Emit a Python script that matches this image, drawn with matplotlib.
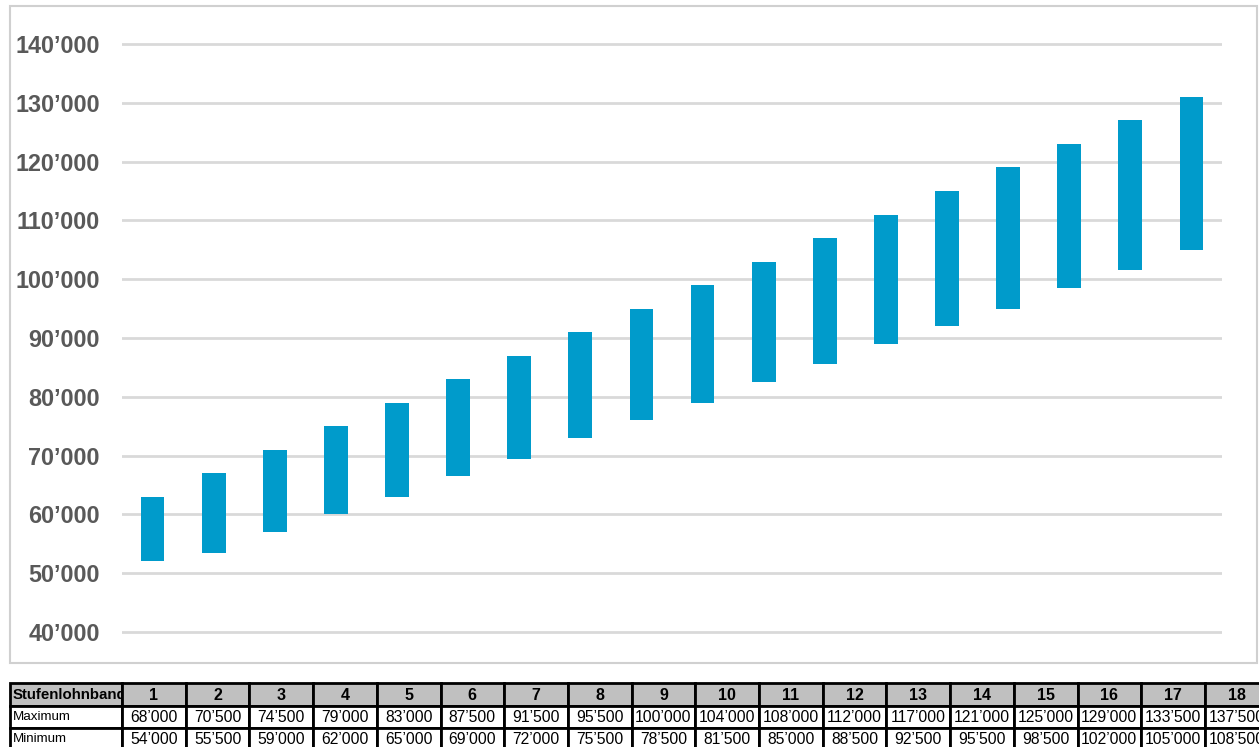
import matplotlib
matplotlib.use("Agg")
import matplotlib.pyplot as plt
from matplotlib.patches import Rectangle

plt.rcParams['font.family'] = ['Liberation Sans', 'DejaVu Sans']

# Data
bands = list(range(1, 19))
bar_low = [52000, 53500, 57000, 60000, 63000, 66500, 69500, 73000, 76000,
           79000, 82500, 85500, 89000, 92000, 95000, 98500, 101500, 105000]
bar_high = [63000, 67000, 71000, 75000, 79000, 83000, 87000, 91000, 95000,
            99000, 103000, 107000, 111000, 115000, 119000, 123000, 127000, 131000]

# Table below the chart
table_max = [68000, 70500, 74500, 79000, 83000, 87500, 91500, 95500, 100000,
             104000, 108000, 112000, 117000, 121000, 125000, 129000, 133500, 137500]
table_min = [54000, 55500, 59000, 62000, 65000, 69000, 72000, 75500, 78500,
             81500, 85000, 88500, 92500, 95500, 98500, 102000, 105000, 108500]
yticks = [40000, 50000, 60000, 70000, 80000, 90000, 100000, 110000, 120000, 130000, 140000]

W, H = 1259, 747
BAR_COLOR = '#009BCB'
GRID_COLOR = '#D9D9D9'
LABEL_COLOR = '#595959'


def fmt(v):
    s = f"{v:,}"
    return s.replace(",", "\u2019")


def fx(x):
    return x / W


def fy(y):
    return 1 - y / H


fig = plt.figure(figsize=(W / 100, H / 100), dpi=100)

# ------------------------- chart area -------------------------
y_top_px, y_bot_px = 44, 632          # pixel rows of 140'000 and 40'000
px_per_unit = (y_bot_px - y_top_px) / 100000
ymin, ymax = 35000, 145000
ax_bot = y_bot_px + (40000 - ymin) * px_per_unit
ax_top = y_top_px - (ymax - 140000) * px_per_unit
ax = fig.add_axes([fx(122), fy(ax_bot), fx(1222) - fx(122), fy(ax_top) - fy(ax_bot)])

heights = [h - l for h, l in zip(bar_high, bar_low)]
ax.bar(bands, heights, bottom=bar_low, width=0.39, color=BAR_COLOR, zorder=3)

ax.set_xlim(0.5, 18.5)
ax.set_ylim(ymin, ymax)
ax.set_yticks(yticks)
ax.set_yticklabels([fmt(v) for v in yticks], fontsize=16.8, fontweight='bold',
                   color=LABEL_COLOR)
ax.set_xticks([])
ax.tick_params(axis='y', length=0, pad=16)
for v in yticks:
    ax.axhline(v, color=GRID_COLOR, linewidth=2, zorder=1)
for s in ax.spines.values():
    s.set_visible(False)

# outer chart frame
fig.patches.append(Rectangle((fx(10), fy(663)), fx(1257) - fx(10), fy(6) - fy(663),
                             transform=fig.transFigure, fill=False,
                             edgecolor='#D0D0D0', linewidth=1.5))

# ------------------------- table -------------------------
label_left, label_right = 10, 122
col_w = 63.7
row_edges = [683, 706, 728, 750]
rows = [("Stufenlohnband", [str(b) for b in bands], True),
        ("Maximum", [fmt(v) for v in table_max], False),
        ("Minimum", [fmt(v) for v in table_min], False)]

for r, (name, cells, header) in enumerate(rows):
    y0, y1 = row_edges[r], row_edges[r + 1]
    yc = (y0 + y1) / 2 + 0.5
    face = '#C0C0C0' if header else 'white'
    # label cell
    lab_rect = Rectangle((fx(label_left), fy(y1)), fx(label_right) - fx(label_left),
                         fy(y0) - fy(y1), transform=fig.transFigure,
                         facecolor=face, edgecolor='black', linewidth=2)
    fig.patches.append(lab_rect)
    t = fig.text(fx(label_left + 3), fy(yc), name, ha='left', va='center',
                 fontsize=10.8 if header else 9.6,
                 fontweight='bold' if header else 'normal')
    t.set_clip_path(lab_rect)
    for i, txt in enumerate(cells):
        x0 = label_right + i * col_w
        cell = Rectangle((fx(x0), fy(y1)), fx(col_w), fy(y0) - fy(y1),
                         transform=fig.transFigure, facecolor=face,
                         edgecolor='black', linewidth=2)
        fig.patches.append(cell)
        fig.text(fx(x0 + col_w / 2), fy(yc), txt, ha='center', va='center',
                 fontsize=11.5 if header else 11.3,
                 fontweight='bold' if header else 'normal')

fig.savefig("out.png", dpi=100)
